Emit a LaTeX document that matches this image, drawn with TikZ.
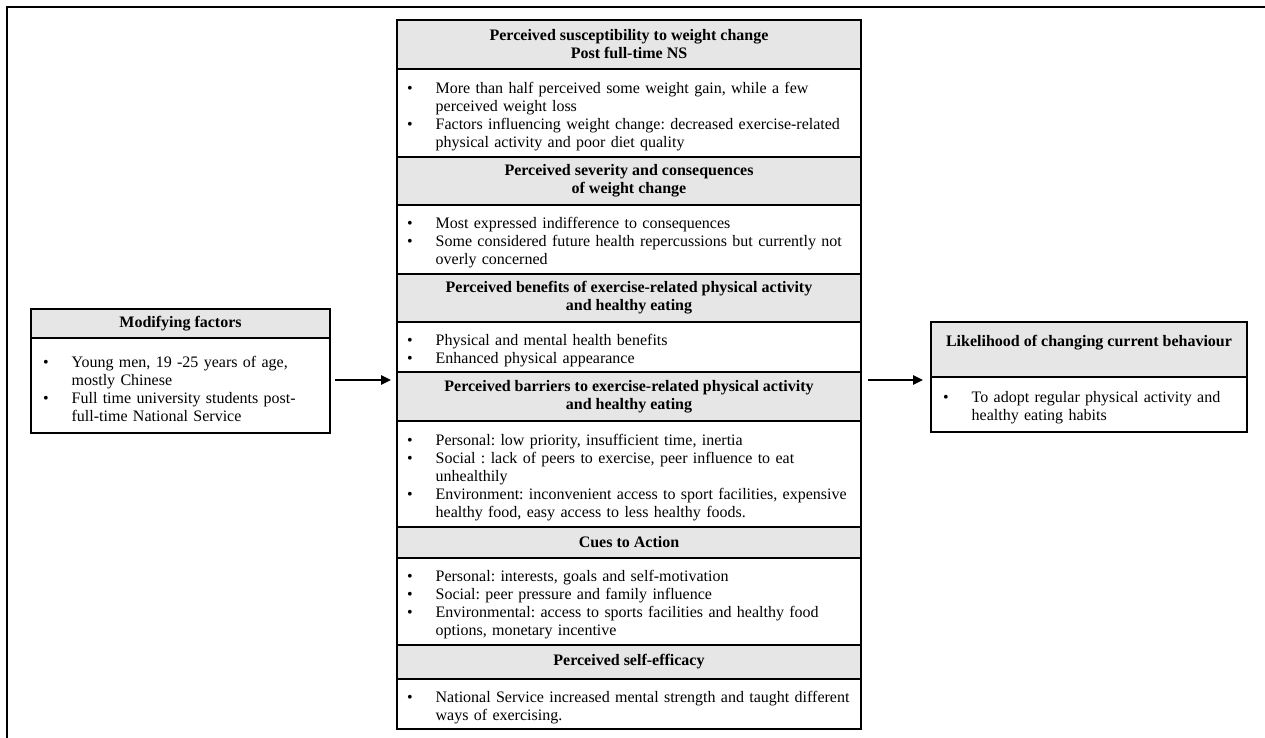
\documentclass[tikz,border=0pt]{standalone}
\usepackage{fontspec}
\setmainfont{Liberation Serif}
\usetikzlibrary{arrows.meta}

\definecolor{hdrgray}{RGB}{231,230,230}
\newcommand{\boxfont}{\fontsize{12pt}{13.5pt}\selectfont\frenchspacing}
\newcommand{\nl}{\hfil\break}
\newcommand{\bitem}[1]{\par\noindent\hangindent=21.5pt\hangafter=1\makebox[21.5pt][l]{\textbullet}#1\par}

\tikzset{
  hdr/.style={draw, line width=0.8pt, fill=hdrgray, anchor=north west, align=center, inner sep=0pt, outer sep=0pt, font=\boxfont\bfseries},
  bdy/.style={draw, line width=0.8pt, fill=white, anchor=north west, align=left, inner ysep=3pt, outer sep=0pt, font=\boxfont},
  mid/.style={minimum width=348pt},
  midtext/.style={inner xsep=7.5pt, text width=333pt},
  lside/.style={minimum width=224.25pt},
  lsidetext/.style={inner xsep=9pt, text width=206.25pt},
  rside/.style={minimum width=237pt},
  rsidetext/.style={inner xsep=9pt, text width=219pt},
  flow/.style={-{Triangle[length=7.5pt,width=7pt]}, line width=1.6pt},
}

\begin{document}
\begin{tikzpicture}[x=0.75pt,y=-0.75pt]
  \useasboundingbox (0,0) rectangle (1265,738);

  % Frame
  \draw[line width=1.5pt] (7,738) -- (7,7) -- (1265,7);

  % Modifying factors
  \node[hdr, lside, minimum height=21.75pt] (modhdr) at (31,309) {Modifying factors};
  \node[bdy, lside, lsidetext, minimum height=71.25pt] (modbody) at (modhdr.south west)
    {\bitem{Young men, 19 -25 years of age,\nl mostly Chinese}%
     \bitem{Full time university students post-\nl full-time National Service}};

  % Constructs of the model
  \node[hdr, mid, minimum height=36.75pt] (h1) at (397,20)
    {Perceived susceptibility to weight change\\Post full-time NS};
  \node[bdy, mid, midtext, minimum height=66pt] (b1) at (h1.south west)
    {\bitem{More than half perceived some weight gain, while a few\nl perceived weight loss}%
     \bitem{Factors influencing weight change: decreased exercise-related\nl physical activity and poor diet quality}};

  \node[hdr, mid, minimum height=36pt] (h2) at (b1.south west)
    {Perceived severity and consequences\\of weight change};
  \node[bdy, mid, midtext, minimum height=51.75pt] (b2) at (h2.south west)
    {\bitem{Most expressed indifference to consequences}%
     \bitem{Some considered future health repercussions but currently not\nl overly concerned}};

  \node[hdr, mid, minimum height=36pt] (h3) at (b2.south west)
    {Perceived benefits of exercise-related physical activity\\and healthy eating};
  \node[bdy, mid, midtext, minimum height=37.5pt] (b3) at (h3.south west)
    {\bitem{Physical and mental health benefits}%
     \bitem{Enhanced physical appearance}};

  \node[hdr, mid, minimum height=36.75pt] (h4) at (b3.south west)
    {Perceived barriers to exercise-related physical activity\\and healthy eating};
  \node[bdy, mid, midtext, minimum height=79.5pt] (b4) at (h4.south west)
    {\bitem{Personal: low priority, insufficient time, inertia}%
     \bitem{Social : lack of peers to exercise, peer influence to eat\nl unhealthily}%
     \bitem{Environment: inconvenient access to sport facilities, expensive\nl healthy food, easy access to less healthy foods.}};

  \node[hdr, mid, minimum height=23.25pt] (h5) at (b4.south west) {Cues to Action};
  \node[bdy, mid, midtext, minimum height=65.25pt] (b5) at (h5.south west)
    {\bitem{Personal: interests, goals and self-motivation}%
     \bitem{Social: peer pressure and family influence}%
     \bitem{Environmental: access to sports facilities and healthy food\nl options, monetary incentive}};

  \node[hdr, mid, minimum height=25.5pt] (h6) at (b5.south west) {Perceived self-efficacy};
  \node[bdy, mid, midtext, minimum height=37.5pt] (b6) at (h6.south west)
    {\bitem{National Service increased mental strength and taught different\nl ways of exercising.}};

  % Likelihood of action
  \node[hdr, rside, minimum height=41.25pt] (likhdr) at (931,322)
    {Likelihood of changing current behaviour\\ \mbox{}};
  \node[bdy, rside, rsidetext, minimum height=41.25pt] (likbody) at (likhdr.south west)
    {\bitem{To adopt regular physical activity and\nl healthy eating habits}};

  % Arrows
  \coordinate (arrowrow) at (0,380);
  \draw[flow, shorten <=3.75pt, shorten >=4.5pt] (modbody.east |- arrowrow) -- (h4.west |- arrowrow);
  \draw[flow, shorten <=5.25pt, shorten >=6pt] (h4.east |- arrowrow) -- (likhdr.west |- arrowrow);
\end{tikzpicture}
\end{document}
